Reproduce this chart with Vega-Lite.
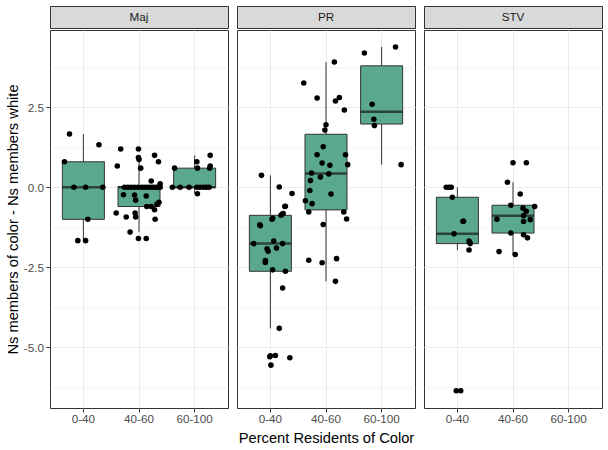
{
  "$schema": "https://vega.github.io/schema/vega-lite/v6.json",
  "padding": {"left": 4, "top": 5, "right": 8, "bottom": 4},
  "config": {
    "font": "Liberation Sans",
    "view": {"stroke": "#333333", "strokeWidth": 1, "cornerRadius": 0},
    "axis": {
      "domain": false,
      "tickColor": "#333333",
      "tickSize": 4,
      "labelColor": "#4D4D4D",
      "labelFontSize": 11.7,
      "labelPadding": 2.5,
      "titleFontSize": 14.7,
      "titleFontWeight": "normal",
      "titleColor": "#000000",
      "gridColor": "#EBEBEB"
    }
  },
  "datasets": {
    "pts": [
      {"panel": "Maj", "pct": "0-40", "diff": 1.667, "jit": -0.25},
      {"panel": "Maj", "pct": "0-40", "diff": 1.333, "jit": 0.28},
      {"panel": "Maj", "pct": "0-40", "diff": 0.8, "jit": -0.34},
      {"panel": "Maj", "pct": "0-40", "diff": 0, "jit": -0.17},
      {"panel": "Maj", "pct": "0-40", "diff": 0, "jit": 0.04},
      {"panel": "Maj", "pct": "0-40", "diff": 0, "jit": 0.35},
      {"panel": "Maj", "pct": "0-40", "diff": -1, "jit": 0.08},
      {"panel": "Maj", "pct": "0-40", "diff": -1.667, "jit": -0.1},
      {"panel": "Maj", "pct": "0-40", "diff": -1.667, "jit": 0.04},

      {"panel": "Maj", "pct": "40-60", "diff": 1.2, "jit": -0.33},
      {"panel": "Maj", "pct": "40-60", "diff": 1.2, "jit": -0.01},
      {"panel": "Maj", "pct": "40-60", "diff": 0.67, "jit": -0.39},
      {"panel": "Maj", "pct": "40-60", "diff": 1.0, "jit": 0.28},
      {"panel": "Maj", "pct": "40-60", "diff": 0.93, "jit": -0.01},
      {"panel": "Maj", "pct": "40-60", "diff": 0.87, "jit": 0.0},
      {"panel": "Maj", "pct": "40-60", "diff": 0.8, "jit": 0.35},
      {"panel": "Maj", "pct": "40-60", "diff": 0.6, "jit": 0.03},
      {"panel": "Maj", "pct": "40-60", "diff": 0.2, "jit": 0.22},
      {"panel": "Maj", "pct": "40-60", "diff": 0.11, "jit": 0.38},
      {"panel": "Maj", "pct": "40-60", "diff": 0, "jit": -0.26},
      {"panel": "Maj", "pct": "40-60", "diff": 0, "jit": -0.2},
      {"panel": "Maj", "pct": "40-60", "diff": 0, "jit": -0.14},
      {"panel": "Maj", "pct": "40-60", "diff": 0, "jit": -0.08},
      {"panel": "Maj", "pct": "40-60", "diff": 0, "jit": -0.02},
      {"panel": "Maj", "pct": "40-60", "diff": 0, "jit": 0.05},
      {"panel": "Maj", "pct": "40-60", "diff": 0, "jit": 0.1},
      {"panel": "Maj", "pct": "40-60", "diff": 0, "jit": 0.15},
      {"panel": "Maj", "pct": "40-60", "diff": 0, "jit": 0.2},
      {"panel": "Maj", "pct": "40-60", "diff": 0, "jit": 0.25},
      {"panel": "Maj", "pct": "40-60", "diff": 0, "jit": 0.3},
      {"panel": "Maj", "pct": "40-60", "diff": 0, "jit": 0.34},
      {"panel": "Maj", "pct": "40-60", "diff": 0, "jit": 0.38},
      {"panel": "Maj", "pct": "40-60", "diff": -0.23, "jit": -0.28},
      {"panel": "Maj", "pct": "40-60", "diff": -0.24, "jit": -0.08},
      {"panel": "Maj", "pct": "40-60", "diff": -0.4, "jit": -0.06},
      {"panel": "Maj", "pct": "40-60", "diff": -0.27, "jit": 0.13},
      {"panel": "Maj", "pct": "40-60", "diff": -0.6, "jit": 0.14},
      {"panel": "Maj", "pct": "40-60", "diff": -0.6, "jit": 0.22},
      {"panel": "Maj", "pct": "40-60", "diff": -0.7, "jit": 0.28},
      {"panel": "Maj", "pct": "40-60", "diff": -0.53, "jit": 0.32},
      {"panel": "Maj", "pct": "40-60", "diff": -0.47, "jit": 0.36},
      {"panel": "Maj", "pct": "40-60", "diff": -0.8, "jit": -0.41},
      {"panel": "Maj", "pct": "40-60", "diff": -0.93, "jit": -0.23},
      {"panel": "Maj", "pct": "40-60", "diff": -0.93, "jit": -0.06},
      {"panel": "Maj", "pct": "40-60", "diff": -0.8, "jit": -0.07},
      {"panel": "Maj", "pct": "40-60", "diff": -1.0, "jit": 0.29},
      {"panel": "Maj", "pct": "40-60", "diff": -1.4, "jit": -0.16},
      {"panel": "Maj", "pct": "40-60", "diff": -1.6, "jit": -0.01},
      {"panel": "Maj", "pct": "40-60", "diff": -1.6, "jit": 0.13},

      {"panel": "Maj", "pct": "60-100", "diff": 1.0, "jit": 0.28},
      {"panel": "Maj", "pct": "60-100", "diff": 0.8, "jit": 0.04},
      {"panel": "Maj", "pct": "60-100", "diff": 0.67, "jit": 0.28},
      {"panel": "Maj", "pct": "60-100", "diff": 0.6, "jit": 0.27},
      {"panel": "Maj", "pct": "60-100", "diff": 0.6, "jit": -0.36},
      {"panel": "Maj", "pct": "60-100", "diff": 0.6, "jit": 0.05},
      {"panel": "Maj", "pct": "60-100", "diff": 0, "jit": -0.4},
      {"panel": "Maj", "pct": "60-100", "diff": 0, "jit": -0.26},
      {"panel": "Maj", "pct": "60-100", "diff": 0, "jit": -0.1},
      {"panel": "Maj", "pct": "60-100", "diff": 0, "jit": 0.04},
      {"panel": "Maj", "pct": "60-100", "diff": 0, "jit": 0.1},
      {"panel": "Maj", "pct": "60-100", "diff": 0, "jit": 0.16},
      {"panel": "Maj", "pct": "60-100", "diff": 0, "jit": 0.21},
      {"panel": "Maj", "pct": "60-100", "diff": 0, "jit": 0.26},
      {"panel": "Maj", "pct": "60-100", "diff": -0.2, "jit": 0.05},

      {"panel": "PR", "pct": "0-40", "diff": 0.375, "jit": -0.16},
      {"panel": "PR", "pct": "0-40", "diff": 0.01, "jit": 0.16},
      {"panel": "PR", "pct": "0-40", "diff": -0.19, "jit": 0.39},
      {"panel": "PR", "pct": "0-40", "diff": -0.59, "jit": 0.27},
      {"panel": "PR", "pct": "0-40", "diff": -0.6, "jit": 0.26},
      {"panel": "PR", "pct": "0-40", "diff": -0.82, "jit": 0.23},
      {"panel": "PR", "pct": "0-40", "diff": -0.84, "jit": 0.21},
      {"panel": "PR", "pct": "0-40", "diff": -0.875, "jit": 0.19},
      {"panel": "PR", "pct": "0-40", "diff": -0.97, "jit": 0.04},
      {"panel": "PR", "pct": "0-40", "diff": -1.0, "jit": 0.03},
      {"panel": "PR", "pct": "0-40", "diff": -1.17, "jit": -0.19},
      {"panel": "PR", "pct": "0-40", "diff": -1.2, "jit": -0.18},
      {"panel": "PR", "pct": "0-40", "diff": -1.68, "jit": 0.06},
      {"panel": "PR", "pct": "0-40", "diff": -1.76, "jit": -0.3},
      {"panel": "PR", "pct": "0-40", "diff": -1.76, "jit": 0.22},
      {"panel": "PR", "pct": "0-40", "diff": -1.92, "jit": -0.06},
      {"panel": "PR", "pct": "0-40", "diff": -1.9, "jit": 0.11},
      {"panel": "PR", "pct": "0-40", "diff": -2.0, "jit": -0.04},
      {"panel": "PR", "pct": "0-40", "diff": -2.29, "jit": -0.09},
      {"panel": "PR", "pct": "0-40", "diff": -2.35, "jit": -0.09},
      {"panel": "PR", "pct": "0-40", "diff": -2.58, "jit": 0.04},
      {"panel": "PR", "pct": "0-40", "diff": -2.625, "jit": 0.27},
      {"panel": "PR", "pct": "0-40", "diff": -3.15, "jit": 0.22},
      {"panel": "PR", "pct": "0-40", "diff": -4.41, "jit": 0.16},
      {"panel": "PR", "pct": "0-40", "diff": -5.27, "jit": 0.0},
      {"panel": "PR", "pct": "0-40", "diff": -5.26, "jit": 0.09},
      {"panel": "PR", "pct": "0-40", "diff": -5.3, "jit": -0.01},
      {"panel": "PR", "pct": "0-40", "diff": -5.33, "jit": 0.35},
      {"panel": "PR", "pct": "0-40", "diff": -5.56, "jit": 0.01},

      {"panel": "PR", "pct": "40-60", "diff": 3.92, "jit": 0.15},
      {"panel": "PR", "pct": "40-60", "diff": 3.26, "jit": -0.4},
      {"panel": "PR", "pct": "40-60", "diff": 2.79, "jit": -0.16},
      {"panel": "PR", "pct": "40-60", "diff": 2.7, "jit": 0.17},
      {"panel": "PR", "pct": "40-60", "diff": 2.81, "jit": 0.24},
      {"panel": "PR", "pct": "40-60", "diff": 2.42, "jit": 0.33},
      {"panel": "PR", "pct": "40-60", "diff": 1.96, "jit": 0.0},
      {"panel": "PR", "pct": "40-60", "diff": 1.79, "jit": -0.02},
      {"panel": "PR", "pct": "40-60", "diff": 1.27, "jit": -0.05},
      {"panel": "PR", "pct": "40-60", "diff": 1.02, "jit": -0.16},
      {"panel": "PR", "pct": "40-60", "diff": 1.02, "jit": 0.35},
      {"panel": "PR", "pct": "40-60", "diff": 0.76, "jit": -0.07},
      {"panel": "PR", "pct": "40-60", "diff": 0.71, "jit": 0.39},
      {"panel": "PR", "pct": "40-60", "diff": 0.69, "jit": 0.07},
      {"panel": "PR", "pct": "40-60", "diff": 0.45, "jit": -0.26},
      {"panel": "PR", "pct": "40-60", "diff": 0.42, "jit": 0.05},
      {"panel": "PR", "pct": "40-60", "diff": 0.32, "jit": -0.1},
      {"panel": "PR", "pct": "40-60", "diff": 0.21, "jit": -0.28},
      {"panel": "PR", "pct": "40-60", "diff": -0.1, "jit": -0.29},
      {"panel": "PR", "pct": "40-60", "diff": -0.21, "jit": 0.09},
      {"panel": "PR", "pct": "40-60", "diff": -0.42, "jit": -0.37},
      {"panel": "PR", "pct": "40-60", "diff": -0.51, "jit": -0.25},
      {"panel": "PR", "pct": "40-60", "diff": -0.77, "jit": -0.31},
      {"panel": "PR", "pct": "40-60", "diff": -0.77, "jit": 0.32},
      {"panel": "PR", "pct": "40-60", "diff": -0.99, "jit": 0.37},
      {"panel": "PR", "pct": "40-60", "diff": -1.16, "jit": -0.05},
      {"panel": "PR", "pct": "40-60", "diff": -2.28, "jit": -0.31},
      {"panel": "PR", "pct": "40-60", "diff": -2.36, "jit": -0.07},
      {"panel": "PR", "pct": "40-60", "diff": -2.23, "jit": 0.19},
      {"panel": "PR", "pct": "40-60", "diff": -2.94, "jit": 0.17},

      {"panel": "PR", "pct": "60-100", "diff": 4.39, "jit": 0.25},
      {"panel": "PR", "pct": "60-100", "diff": 4.2, "jit": -0.31},
      {"panel": "PR", "pct": "60-100", "diff": 2.6, "jit": -0.17},
      {"panel": "PR", "pct": "60-100", "diff": 2.13, "jit": -0.14},
      {"panel": "PR", "pct": "60-100", "diff": 1.93, "jit": -0.13},
      {"panel": "PR", "pct": "60-100", "diff": 0.71, "jit": 0.35},

      {"panel": "STV", "pct": "0-40", "diff": 0, "jit": -0.2},
      {"panel": "STV", "pct": "0-40", "diff": 0, "jit": -0.11},
      {"panel": "STV", "pct": "0-40", "diff": 0, "jit": -0.15},
      {"panel": "STV", "pct": "0-40", "diff": -0.31, "jit": -0.09},
      {"panel": "STV", "pct": "0-40", "diff": -1.06, "jit": 0.1},
      {"panel": "STV", "pct": "0-40", "diff": -1.06, "jit": 0.11},
      {"panel": "STV", "pct": "0-40", "diff": -1.45, "jit": -0.06},
      {"panel": "STV", "pct": "0-40", "diff": -1.68, "jit": 0.21},
      {"panel": "STV", "pct": "0-40", "diff": -1.72, "jit": 0.22},
      {"panel": "STV", "pct": "0-40", "diff": -1.76, "jit": 0.23},
      {"panel": "STV", "pct": "0-40", "diff": -1.96, "jit": 0.21},
      {"panel": "STV", "pct": "0-40", "diff": -6.36, "jit": -0.02},
      {"panel": "STV", "pct": "0-40", "diff": -6.36, "jit": 0.06},

      {"panel": "STV", "pct": "40-60", "diff": 0.77, "jit": 0.0},
      {"panel": "STV", "pct": "40-60", "diff": 0.77, "jit": 0.24},
      {"panel": "STV", "pct": "40-60", "diff": 0.16, "jit": -0.1},
      {"panel": "STV", "pct": "40-60", "diff": -0.21, "jit": 0.13},
      {"panel": "STV", "pct": "40-60", "diff": -0.56, "jit": -0.04},
      {"panel": "STV", "pct": "40-60", "diff": -0.6, "jit": 0.39},
      {"panel": "STV", "pct": "40-60", "diff": -0.65, "jit": 0.18},
      {"panel": "STV", "pct": "40-60", "diff": -0.75, "jit": 0.24},
      {"panel": "STV", "pct": "40-60", "diff": -0.885, "jit": 0.19},
      {"panel": "STV", "pct": "40-60", "diff": -1.0, "jit": -0.29},
      {"panel": "STV", "pct": "40-60", "diff": -1.01, "jit": 0.31},
      {"panel": "STV", "pct": "40-60", "diff": -1.07, "jit": 0.19},
      {"panel": "STV", "pct": "40-60", "diff": -1.43, "jit": -0.04},
      {"panel": "STV", "pct": "40-60", "diff": -1.48, "jit": 0.19},
      {"panel": "STV", "pct": "40-60", "diff": -1.58, "jit": 0.26},
      {"panel": "STV", "pct": "40-60", "diff": -2.01, "jit": -0.25},
      {"panel": "STV", "pct": "40-60", "diff": -2.1, "jit": 0.04}
    ]
  },
  "spacing": 7,
  "hconcat": [
    {
      "spacing": 0,
      "vconcat": [
        {
          "width": 178, "height": 22,
          "view": {"fill": "#D9D9D9", "stroke": "#333333", "cornerRadius": 0},
          "data": {"name": "pts"},
          "transform": [
            {"filter": "datum.panel === 'Maj'"},
            {"aggregate": [{"op": "count", "as": "n"}], "groupby": ["panel"]}
          ],
          "mark": {"type": "text", "fontSize": 11.7, "color": "#1A1A1A"},
          "encoding": {"text": {"field": "panel", "type": "nominal"}}
        },
        {
          "width": 178, "height": 378,
          "data": {"name": "pts"},
          "transform": [{"filter": "datum.panel === 'Maj'"}],
          "encoding": {
            "x": {
              "field": "pct", "type": "nominal",
              "scale": {"domain": ["0-40", "40-60", "60-100"], "paddingInner": 0, "paddingOuter": 0.1},
              "axis": {"title": null, "labelAngle": 0, "bandPosition": 0.5, "grid": true, "labelPadding": 1.5}
            },
            "y": {
              "field": "diff", "type": "quantitative",
              "scale": {"domain": [-6.9, 4.92], "nice": false, "zero": false},
              "axis": {
                "title": "Ns members of color - Ns members white",
                "titlePadding": 3,
                "values": [-6.25, -5, -3.75, -2.5, -1.25, 0, 1.25, 2.5, 3.75],
                "labelExpr": "abs(datum.value % 2.5) > 0.01 ? '' : (datum.value < 0 ? '-' : '') + format(abs(datum.value), '.1f')",
                "tickOpacity": {"condition": {"test": "abs(datum.value % 2.5) > 0.01", "value": 0}, "value": 1},
                "gridWidth": {"condition": {"test": "abs(datum.value % 2.5) > 0.01", "value": 0.55}, "value": 1.1}
              }
            }
          },
          "layer": [
            {
              "mark": {
                "type": "boxplot", "extent": 1.5, "size": 42, "outliers": false, "ticks": false,
                "box": {"fill": "#5AA98F", "stroke": "#333333", "strokeWidth": 1},
                "median": {"color": "#1A1A1A", "thickness": 2.5},
                "rule": {"stroke": "#333333", "strokeWidth": 1}
              }
            },
            {
              "mark": {"type": "point", "filled": true, "color": "#000000", "opacity": 1, "size": 31},
              "encoding": {"xOffset": {"field": "jit", "type": "quantitative", "scale": {"domain": [-0.5, 0.5]}}}
            }
          ]
        }
      ]
    },
    {
      "spacing": 0,
      "vconcat": [
        {
          "width": 178, "height": 22,
          "view": {"fill": "#D9D9D9", "stroke": "#333333", "cornerRadius": 0},
          "data": {"name": "pts"},
          "transform": [
            {"filter": "datum.panel === 'PR'"},
            {"aggregate": [{"op": "count", "as": "n"}], "groupby": ["panel"]}
          ],
          "mark": {"type": "text", "fontSize": 11.7, "color": "#1A1A1A"},
          "encoding": {"text": {"field": "panel", "type": "nominal"}}
        },
        {
          "width": 178, "height": 378,
          "data": {"name": "pts"},
          "transform": [{"filter": "datum.panel === 'PR'"}],
          "encoding": {
            "x": {
              "field": "pct", "type": "nominal",
              "scale": {"domain": ["0-40", "40-60", "60-100"], "paddingInner": 0, "paddingOuter": 0.1},
              "axis": {"title": "Percent Residents of Color", "titlePadding": 5, "labelAngle": 0, "bandPosition": 0.5, "grid": true, "labelPadding": 1.5}
            },
            "y": {
              "field": "diff", "type": "quantitative",
              "scale": {"domain": [-6.9, 4.92], "nice": false, "zero": false},
              "axis": {
                "title": null, "labels": false, "ticks": false,
                "values": [-6.25, -5, -3.75, -2.5, -1.25, 0, 1.25, 2.5, 3.75],
                "gridWidth": {"condition": {"test": "abs(datum.value % 2.5) > 0.01", "value": 0.55}, "value": 1.1}
              }
            }
          },
          "layer": [
            {
              "mark": {
                "type": "boxplot", "extent": 1.5, "size": 42, "outliers": false, "ticks": false,
                "box": {"fill": "#5AA98F", "stroke": "#333333", "strokeWidth": 1},
                "median": {"color": "#1A1A1A", "thickness": 2.5},
                "rule": {"stroke": "#333333", "strokeWidth": 1}
              }
            },
            {
              "mark": {"type": "point", "filled": true, "color": "#000000", "opacity": 1, "size": 31},
              "encoding": {"xOffset": {"field": "jit", "type": "quantitative", "scale": {"domain": [-0.5, 0.5]}}}
            }
          ]
        }
      ]
    },
    {
      "spacing": 0,
      "vconcat": [
        {
          "width": 178, "height": 22,
          "view": {"fill": "#D9D9D9", "stroke": "#333333", "cornerRadius": 0},
          "data": {"name": "pts"},
          "transform": [
            {"filter": "datum.panel === 'STV'"},
            {"aggregate": [{"op": "count", "as": "n"}], "groupby": ["panel"]}
          ],
          "mark": {"type": "text", "fontSize": 11.7, "color": "#1A1A1A"},
          "encoding": {"text": {"field": "panel", "type": "nominal"}}
        },
        {
          "width": 178, "height": 378,
          "data": {"name": "pts"},
          "transform": [{"filter": "datum.panel === 'STV'"}],
          "encoding": {
            "x": {
              "field": "pct", "type": "nominal",
              "scale": {"domain": ["0-40", "40-60", "60-100"], "paddingInner": 0, "paddingOuter": 0.1},
              "axis": {"title": null, "labelAngle": 0, "bandPosition": 0.5, "grid": true, "labelPadding": 1.5}
            },
            "y": {
              "field": "diff", "type": "quantitative",
              "scale": {"domain": [-6.9, 4.92], "nice": false, "zero": false},
              "axis": {
                "title": null, "labels": false, "ticks": false,
                "values": [-6.25, -5, -3.75, -2.5, -1.25, 0, 1.25, 2.5, 3.75],
                "gridWidth": {"condition": {"test": "abs(datum.value % 2.5) > 0.01", "value": 0.55}, "value": 1.1}
              }
            }
          },
          "layer": [
            {
              "mark": {
                "type": "boxplot", "extent": 1.5, "size": 42, "outliers": false, "ticks": false,
                "box": {"fill": "#5AA98F", "stroke": "#333333", "strokeWidth": 1},
                "median": {"color": "#1A1A1A", "thickness": 2.5},
                "rule": {"stroke": "#333333", "strokeWidth": 1}
              }
            },
            {
              "mark": {"type": "point", "filled": true, "color": "#000000", "opacity": 1, "size": 31},
              "encoding": {"xOffset": {"field": "jit", "type": "quantitative", "scale": {"domain": [-0.5, 0.5]}}}
            }
          ]
        }
      ]
    }
  ]
}
